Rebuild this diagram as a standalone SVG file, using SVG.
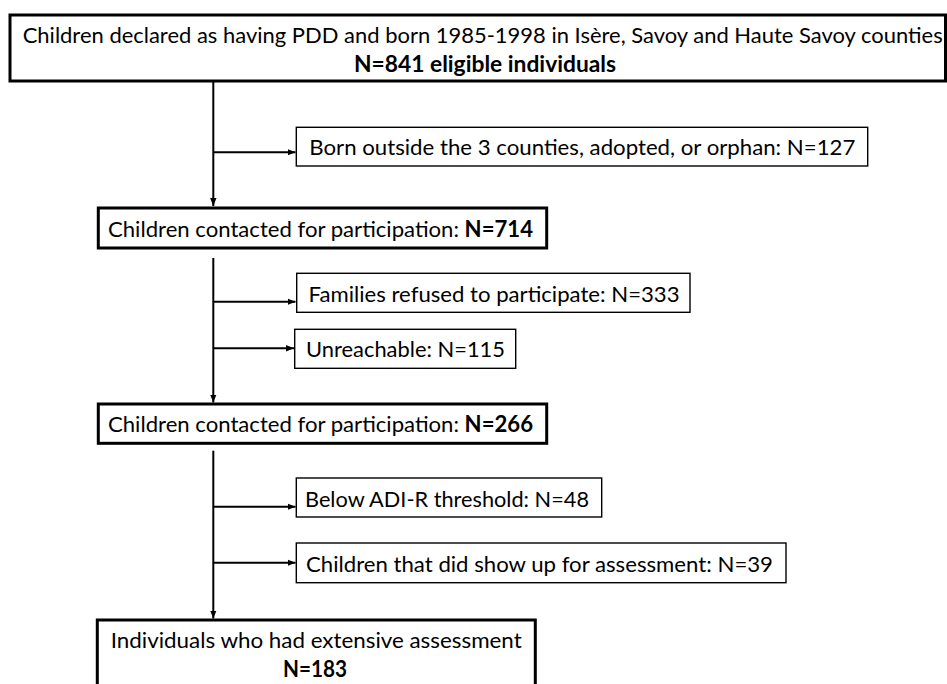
<svg xmlns="http://www.w3.org/2000/svg" width="947" height="684" viewBox="0 0 947 684">
<style>
text{font-family:Lato,"Liberation Sans",sans-serif;font-size:22px;fill:#000}
.b{font-weight:bold}
.thick{fill:#fff;stroke:#000;stroke-width:3}
.thin{fill:#fff;stroke:#000;stroke-width:1.4}
.c{fill:none;stroke:#000;stroke-width:2}
</style>
<defs>
<marker id="arr" viewBox="0 0 8 8" refX="8" refY="4" markerWidth="8" markerHeight="8" markerUnits="userSpaceOnUse" orient="auto">
<path d="M0,0.8 L8,4 L0,7.2 z" fill="#000"/>
</marker>
</defs>
<rect width="947" height="684" fill="#fff"/>
<g id="connectors">
<path class="c" d="M213.3,81 V206" marker-end="url(#arr)"/>
<path class="c" d="M213.3,152.3 H295.5" marker-end="url(#arr)"/>
<path class="c" d="M213.3,258 V402.5" marker-end="url(#arr)"/>
<path class="c" d="M213.3,301.7 H295.5" marker-end="url(#arr)"/>
<path class="c" d="M213.3,348.3 H294" marker-end="url(#arr)"/>
<path class="c" d="M213.3,450.7 V618.5" marker-end="url(#arr)"/>
<path class="c" d="M213.3,506.7 H295.5" marker-end="url(#arr)"/>
<path class="c" d="M213.3,562.7 H295.5" marker-end="url(#arr)"/>
</g>
<g id="n_eligible">
<rect class="thick" x="10" y="15" width="935.5" height="66"/>
<text x="22.7" y="43.3" textLength="920" lengthAdjust="spacingAndGlyphs">Children declared as having PDD and born 1985-1998 in Isère, Savoy and Haute Savoy counties</text>
<text class="b" x="485" y="72" text-anchor="middle" textLength="262" lengthAdjust="spacingAndGlyphs">N=841 eligible individuals</text>
</g>
<g id="n_born_outside">
<rect class="thin" x="296.3" y="127.3" width="571.4" height="38.7"/>
<text x="309.3" y="155" textLength="546" lengthAdjust="spacingAndGlyphs">Born outside the 3 counties, adopted, or orphan: N=127</text>
</g>
<g id="n_contacted_714">
<rect class="thick" x="98.3" y="208" width="448.4" height="40"/>
<text x="108" y="236.7" textLength="425" lengthAdjust="spacingAndGlyphs">Children contacted for participation: <tspan class="b">N=714</tspan></text>
</g>
<g id="n_refused">
<rect class="thin" x="296.7" y="273.3" width="393.3" height="39"/>
<text x="308.5" y="301.5" textLength="371" lengthAdjust="spacingAndGlyphs">Families refused to participate: N=333</text>
</g>
<g id="n_unreachable">
<rect class="thin" x="294.7" y="329.3" width="221" height="39"/>
<text x="306" y="357.2" textLength="199" lengthAdjust="spacingAndGlyphs">Unreachable: N=115</text>
</g>
<g id="n_contacted_266">
<rect class="thick" x="98.3" y="404" width="448.4" height="39.3"/>
<text x="108" y="432" textLength="425" lengthAdjust="spacingAndGlyphs">Children contacted for participation: <tspan class="b">N=266</tspan></text>
</g>
<g id="n_below_adir">
<rect class="thin" x="296.3" y="478" width="305.4" height="39"/>
<text x="305" y="506.5" textLength="284" lengthAdjust="spacingAndGlyphs">Below ADI-R threshold: N=48</text>
</g>
<g id="n_show_up">
<rect class="thin" x="296.3" y="543" width="489.7" height="39.7"/>
<text x="306" y="571.5" textLength="467" lengthAdjust="spacingAndGlyphs">Children that did show up for assessment: N=39</text>
</g>
<g id="n_assessed">
<rect class="thick" x="97.3" y="620" width="438" height="80"/>
<text x="110.7" y="648.3" textLength="411" lengthAdjust="spacingAndGlyphs">Individuals who had extensive assessment</text>
<text class="b" x="315" y="677" text-anchor="middle" textLength="64" lengthAdjust="spacingAndGlyphs">N=183</text>
</g>
</svg>
